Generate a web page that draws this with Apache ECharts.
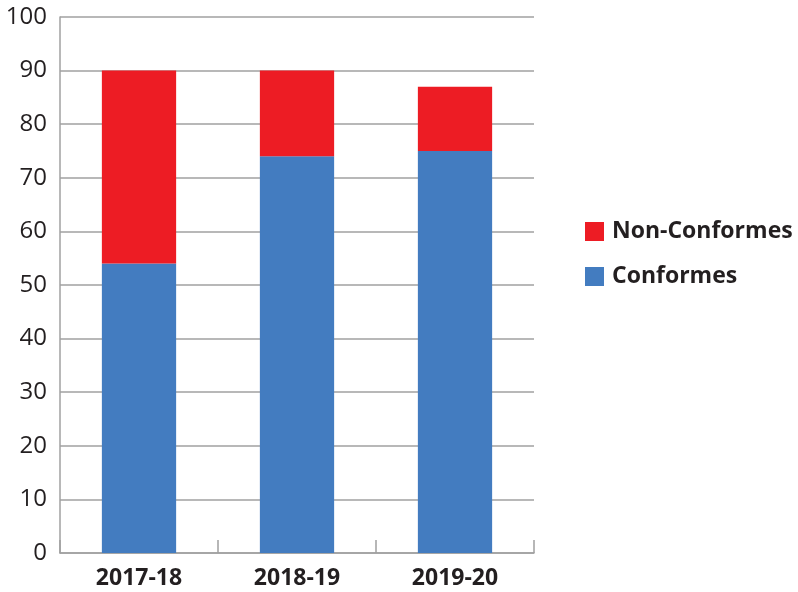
<!DOCTYPE html>
<html><head><meta charset="utf-8">
<script src="https://cdn.jsdelivr.net/npm/echarts@6/dist/echarts.min.js"></script>
<style>html,body{margin:0;padding:0;background:#fff}#c{width:798px;height:592px}</style>
</head><body><div id="c"></div>
<script>
const categories = ['2017-18', '2018-19', '2019-20'];
const conformes = [54, 74, 75];
const nonConformes = [36, 16, 12];
const seriesNames = ['Non-Conformes', 'Conformes'];

const chart = echarts.init(document.getElementById('c'), null, {renderer: 'canvas'});
const font = 'Open Sans';
chart.setOption({
  animation: false,
  grid: {left: 60, right: 264, top: 17, bottom: 39},
  legend: {
    orient: 'vertical', left: 585, top: 220, padding: 0,
    itemWidth: 19, itemHeight: 19, itemGap: 22,
    icon: 'rect',
    data: seriesNames,
    textStyle: {fontFamily: font, fontSize: 23, fontWeight: 'bold', color: '#231f20', lineHeight: 19, padding: [0, 0, 0, 3]}
  },
  xAxis: {
    type: 'category', data: categories,
    axisLine: {lineStyle: {color: '#a0a0a0', width: 1.5}},
    axisTick: {show: true, inside: true, length: 13, lineStyle: {color: '#a0a0a0', width: 1.5}},
    axisLabel: {fontFamily: font, fontSize: 23, fontWeight: 'bold', color: '#231f20', margin: 14}
  },
  yAxis: {
    type: 'value', min: 0, max: 100, interval: 10,
    axisLine: {show: true, lineStyle: {color: '#a0a0a0', width: 1.5}},
    axisTick: {show: false},
    splitLine: {lineStyle: {color: '#a0a0a0', width: 1.5}},
    axisLabel: {fontFamily: font, fontSize: 24, color: '#231f20', margin: 13}
  },
  series: [
    {name: 'Conformes', type: 'bar', stack: 's', data: conformes, barWidth: '47%', itemStyle: {color: '#437cc0'}},
    {name: 'Non-Conformes', type: 'bar', stack: 's', data: nonConformes, barWidth: '47%', itemStyle: {color: '#ed1c24'}}
  ]
});
</script></body></html>
